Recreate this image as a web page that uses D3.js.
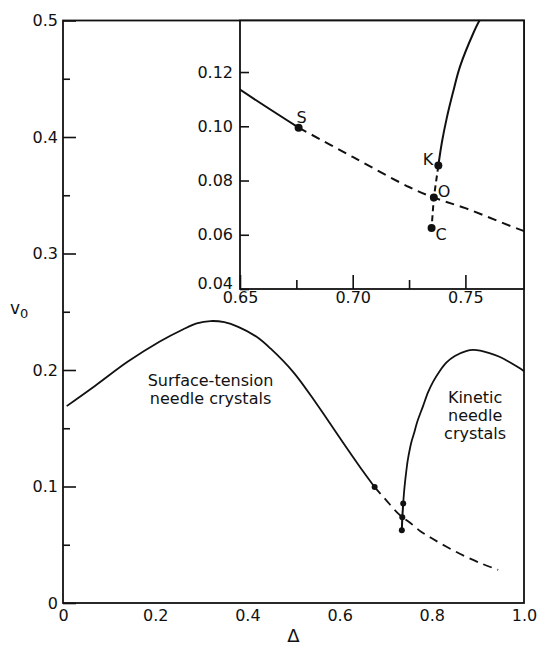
<!DOCTYPE html>
<html>
<head>
<meta charset="utf-8">
<script src="https://cdn.jsdelivr.net/npm/d3@7"></script>
<style>
    body { margin: 0; background: #fff; }
    svg text { font-family: "DejaVu Sans", sans-serif; fill: #111; }
</style>
</head>
<body>
<div id="chart"></div>
<script>
// Values: [Delta, v0]
const surfaceSolid = [
    [0.008, 0.169], [0.07, 0.1865], [0.14, 0.207], [0.21, 0.2245], [0.26, 0.2348],
    [0.29, 0.240], [0.32, 0.242], [0.35, 0.241], [0.38, 0.237], [0.42, 0.2285],
    [0.45, 0.2185], [0.50, 0.198], [0.55, 0.171], [0.60, 0.142], [0.65, 0.1135], [0.676, 0.0995]
];
const surfaceDashed = [
    [0.676, 0.0995], [0.70, 0.0887], [0.725, 0.0776], [0.736, 0.0737], [0.75, 0.0698],
    [0.776, 0.0614], [0.80, 0.0555], [0.832, 0.0483], [0.87, 0.0405], [0.91, 0.0335], [0.944, 0.0285]
];
const kineticSolid = [
    [0.738, 0.0855], [0.7396, 0.0942], [0.7417, 0.1029], [0.7445, 0.1125], [0.7476, 0.122],
    [0.7535, 0.1343], [0.7562, 0.1389], [0.761, 0.145], [0.768, 0.155], [0.781, 0.169],
    [0.792, 0.181], [0.803, 0.190], [0.817, 0.199], [0.832, 0.2065], [0.85, 0.212],
    [0.876, 0.2165], [0.89, 0.2172], [0.905, 0.2166], [0.925, 0.2145], [0.948, 0.2112],
    [0.97, 0.2065], [0.991, 0.2015], [1.0, 0.199]
];
const kineticDashed = [[0.738, 0.0855], [0.736, 0.0737], [0.735, 0.0625]];
const pointNames = ["S", "K", "O", "C"];
const pointValues = [[0.676, 0.0995], [0.738, 0.0855], [0.736, 0.0737], [0.735, 0.0625]];

const mainXTicks = [0, 0.2, 0.4, 0.6, 0.8, 1.0];
const mainXLabels = ["0", "0.2", "0.4", "0.6", "0.8", "1.0"];
const mainYTicks = [0, 0.1, 0.2, 0.3, 0.4, 0.5];
const mainYLabels = ["0", "0.1", "0.2", "0.3", "0.4", "0.5"];
const mainYMinor = [0.05, 0.15, 0.25, 0.35, 0.45];
const insetXTicks = [0.65, 0.70, 0.75];
const insetXLabels = ["0.65", "0.70", "0.75"];
const insetXMinor = [0.675, 0.725];
const insetYTicks = [0.04, 0.06, 0.08, 0.10, 0.12];
const insetYLabels = ["0.04", "0.06", "0.08", "0.10", "0.12"];

const regionLabels = [
    { lines: ["Surface-tension", "needle crystals"], at: [0.32, 0.186] },
    { lines: ["Kinetic", "needle", "crystals"], at: [0.894, 0.172] }
];

const width = 538, height = 645;
const svg = d3.select("#chart").append("svg")
    .attr("width", width)
    .attr("height", height);

// main plot area
const main = { left: 63, right: 524, top: 20.5, bottom: 603 };
const x = d3.scaleLinear().domain([0, 1]).range([main.left, main.right]);
const y = d3.scaleLinear().domain([0, 0.5]).range([main.bottom, main.top]);

// inset sits in the top-right corner
const inset = { left: 240, right: 524, top: 20.5, bottom: 289 };
const xi = d3.scaleLinear().domain([0.65, 0.776]).range([inset.left, inset.right]);
const yi = d3.scaleLinear().domain([0.04, 0.139]).range([inset.bottom, inset.top]);

function styleAxis(g, fontSize) {
    g.select(".domain").remove();
    g.selectAll(".tick line").attr("stroke", "#111").attr("stroke-width", 1.6);
    g.selectAll("text").attr("font-size", fontSize).attr("fill", "#111");
}

// ---- main axes ----
svg.append("g")
    .attr("transform", `translate(${main.left},0)`)
    .call(d3.axisLeft(y).tickValues(mainYTicks).tickSize(-13).tickPadding(5)
        .tickFormat((d, i) => mainYLabels[i]))
    .call(g => styleAxis(g, 16));

svg.append("g")
    .attr("transform", `translate(${main.left},0)`)
    .call(d3.axisLeft(y).tickValues(mainYMinor).tickSize(-7).tickFormat(""))
    .call(g => styleAxis(g, 16));

svg.append("g")
    .attr("transform", `translate(0,${main.bottom})`)
    .call(d3.axisBottom(x).tickValues(mainXTicks).tickSize(0).tickPadding(7)
        .tickFormat((d, i) => mainXLabels[i]))
    .call(g => styleAxis(g, 16));

svg.append("rect")
    .attr("x", main.left).attr("y", main.top)
    .attr("width", main.right - main.left).attr("height", main.bottom - main.top)
    .attr("fill", "none").attr("stroke", "#111").attr("stroke-width", 1.8);

// axis titles
const vLabel = svg.append("text").attr("x", 10).attr("y", 314).attr("font-size", 17);
vLabel.append("tspan").text("v");
vLabel.append("tspan").attr("font-size", 13).attr("dy", 4).text("0");

svg.append("text")
    .attr("x", (main.left + main.right) / 2).attr("y", 642)
    .attr("text-anchor", "middle").attr("font-size", 18)
    .text("Δ");

// ---- main curves ----
const lineMain = d3.line().x(d => x(d[0])).y(d => y(d[1])).curve(d3.curveCatmullRom.alpha(0.5));
const lineMainStraight = d3.line().x(d => x(d[0])).y(d => y(d[1]));

const mainCurves = svg.append("g").attr("fill", "none").attr("stroke", "#111").attr("stroke-width", 1.8);
mainCurves.append("path").attr("d", lineMain(surfaceSolid));
mainCurves.append("path").attr("d", lineMain(surfaceDashed)).attr("stroke-dasharray", "9,6");
mainCurves.append("path").attr("d", lineMain(kineticSolid));
mainCurves.append("path").attr("d", lineMainStraight(kineticDashed)).attr("stroke-width", 2);

svg.append("g").selectAll("circle")
    .data(pointValues)
    .join("circle")
    .attr("cx", d => x(d[0])).attr("cy", d => y(d[1]))
    .attr("r", 3).attr("fill", "#111");

regionLabels.forEach(lab => {
    const t = svg.append("text")
        .attr("text-anchor", "middle").attr("font-size", 16);
    lab.lines.forEach((line, i) => {
        t.append("tspan")
            .attr("x", x(lab.at[0]))
            .attr("y", y(lab.at[1]) + i * 18)
            .text(line);
    });
});

// ---- inset ----
svg.append("rect")
    .attr("x", inset.left).attr("y", inset.top)
    .attr("width", inset.right - inset.left).attr("height", inset.bottom - inset.top)
    .attr("fill", "#fff");

svg.append("clipPath").attr("id", "inset-clip")
    .append("rect")
    .attr("x", inset.left).attr("y", inset.top)
    .attr("width", inset.right - inset.left).attr("height", inset.bottom - inset.top);

svg.append("g")
    .attr("transform", `translate(${inset.left},0)`)
    .call(d3.axisLeft(yi).tickValues(insetYTicks).tickSize(-9).tickPadding(7)
        .tickFormat((d, i) => insetYLabels[i]))
    .call(g => styleAxis(g, 16))
    // bottom label sits a little higher so it clears the x labels
    .call(g => g.selectAll(".tick text").filter(d => d === 0.04).attr("dy", "-0.05em"));

svg.append("g")
    .attr("transform", `translate(0,${inset.bottom})`)
    .call(d3.axisBottom(xi).tickValues(insetXTicks).tickSize(-14).tickPadding(3)
        .tickFormat((d, i) => insetXLabels[i]))
    .call(g => styleAxis(g, 16));

svg.append("g")
    .attr("transform", `translate(0,${inset.bottom})`)
    .call(d3.axisBottom(xi).tickValues(insetXMinor).tickSize(-9).tickFormat(""))
    .call(g => styleAxis(g, 16));

svg.append("rect")
    .attr("x", inset.left).attr("y", inset.top)
    .attr("width", inset.right - inset.left).attr("height", inset.bottom - inset.top)
    .attr("fill", "none").attr("stroke", "#111").attr("stroke-width", 1.8);

const lineInset = d3.line().x(d => xi(d[0])).y(d => yi(d[1])).curve(d3.curveCatmullRom.alpha(0.5));
const lineInsetStraight = d3.line().x(d => xi(d[0])).y(d => yi(d[1]));

const insetCurves = svg.append("g")
    .attr("clip-path", "url(#inset-clip)")
    .attr("fill", "none").attr("stroke", "#111").attr("stroke-width", 2);
insetCurves.append("path").attr("d", lineInset(surfaceSolid));
insetCurves.append("path").attr("d", lineInset(surfaceDashed)).attr("stroke-dasharray", "9,6");
insetCurves.append("path").attr("d", lineInset(kineticSolid));
insetCurves.append("path").attr("d", lineInsetStraight(kineticDashed)).attr("stroke-dasharray", "6,4");

svg.append("g").selectAll("circle")
    .data(pointValues)
    .join("circle")
    .attr("cx", d => xi(d[0])).attr("cy", d => yi(d[1]))
    .attr("r", 4).attr("fill", "#111");

// point letters, offsets as in the figure
const letterOffsets = { S: [-2, -5, "start"], K: [-5, -1, "end"], O: [4, -1, "start"], C: [4, 12, "start"] };
svg.append("g").selectAll("text")
    .data(pointNames)
    .join("text")
    .attr("x", (d, i) => xi(pointValues[i][0]) + letterOffsets[d][0])
    .attr("y", (d, i) => yi(pointValues[i][1]) + letterOffsets[d][1])
    .attr("text-anchor", d => letterOffsets[d][2])
    .attr("font-size", 16)
    .text(d => d);
</script>
</body>
</html>
